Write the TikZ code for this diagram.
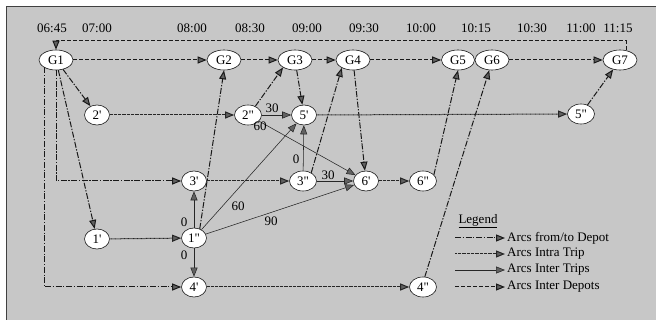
\documentclass[tikz,border=0pt]{standalone}
\usepackage{fontspec}
\setmainfont{Liberation Serif}[Ligatures=TeXOff]
\usetikzlibrary{arrows.meta,shapes.geometric}
\begin{document}
\begin{tikzpicture}[x=1pt,y=-1pt,
  font=\fontsize{13}{15}\selectfont,
  gnode/.style={ellipse,draw=black!90,fill=white,line width=0.6pt,minimum width=34pt,minimum height=20pt,inner sep=0pt},
  tnode/.style={ellipse,draw=black!90,fill=white,line width=0.6pt,minimum width=25pt,minimum height=20pt,inner sep=0pt},
  tip/.style={-{Triangle[length=9pt,width=7pt,fill=black!62]}},
  depot/.style={tip,draw=black!90,line width=1pt,dash pattern=on 6pt off 1.6pt on 1.3pt off 1.6pt},
  intra/.style={tip,draw=black!85,line width=1pt,dash pattern=on 0.8pt off 0.5pt},
  inter/.style={tip,draw=black!85,line width=0.55pt},
  idepot/.style={tip,draw=black!90,line width=1pt,dash pattern=on 4pt off 2pt},
  lbl/.style={inner sep=0pt},
  tlbl/.style={inner sep=0pt},
  legtxt/.style={anchor=west,inner sep=2pt},
]
\useasboundingbox (0,0) rectangle (656,320);
\fill[black!22] (6,6) rectangle (656,320);
\draw[black!75,line width=0.6pt] (6,320) -- (6,6) -- (656,6);

% time labels
\node[tlbl] (t0645) at (52,28) {06:45};
\node[tlbl] (t0700) at (97,28) {07:00};
\node[tlbl] (t0800) at (192,28) {08:00};
\node[tlbl] (t0830) at (250,28) {08:30};
\node[tlbl] (t0900) at (307,28) {09:00};
\node[tlbl] (t0930) at (364,28) {09:30};
\node[tlbl] (t1000) at (421,28) {10:00};
\node[tlbl] (t1015) at (476,28) {10:15};
\node[tlbl] (t1030) at (532,28) {10:30};
\node[tlbl] (t1100) at (581,28) {11:00};
\node[tlbl] (t1115) at (618,28) {11:15};

% depot nodes
\node[gnode] (G1) at (56,60) {G1};
\node[gnode] (G2) at (224,60) {G2};
\node[gnode] (G3) at (295,60) {G3};
\node[gnode] (G4) at (353,60) {G4};
\node[gnode,minimum width=33pt] (G5) at (458,60) {G5};
\node[gnode] (G6) at (492,60) {G6};
\node[gnode] (G7) at (620,60) {G7};

% trip nodes
\node[tnode] (n2p) at (97,115) {2'};
\node[tnode,minimum width=27pt] (n2pp) at (248,115) {2"};
\node[tnode] (n5p) at (304,115) {5'};
\node[tnode,minimum width=27pt] (n5pp) at (581,114) {5"};
\node[tnode] (n3p) at (194,181) {3'};
\node[tnode,minimum width=27pt] (n3pp) at (303,181) {3"};
\node[tnode] (n6p) at (366,181) {6'};
\node[tnode,minimum width=27pt] (n6pp) at (423,181) {6"};
\node[tnode] (n1p) at (97,239) {1'};
\node[tnode] (n1pp) at (194,238) {1"};
\node[tnode] (n4p) at (194,287) {4'};
\node[tnode,minimum width=27pt] (n4pp) at (423,287) {4"};

% inter depots
\coordinate (topl) at (0,41);
\draw[idepot] (G1) -- (G2);
\draw[idepot] (G2) -- (G3);
\draw[idepot] (G3) -- (G4);
\draw[idepot] (G4) -- (G5);
\draw[idepot] (G6) -- (G7);
\draw[idepot] ([xshift=6pt]G7.north) |- (topl -| G1) -- (G1.north);

% from/to depot
\draw[depot] (G1) -- (n2p);
\draw[depot] (G1) -- (n1p);
\draw[depot] (G1.south) |- (n3p.west);
\draw[depot] (G1.212) |- (n4p.west);
\draw[depot] (n1pp.58) -- (G2.south);
\draw[depot] (n2pp.50) -- (G3.212);
\draw[depot] (G3) -- (n5p);
\draw[depot] (n3pp.45) -- (G4.215);
\draw[depot] (G4) -- (n6p);
\draw[depot] (n6pp.30) -- (G5.south);
\draw[depot] (n4pp.80) -- (G6.255);
\draw[depot] (n5pp) -- (G7);

% intra trip
\draw[intra] (n2p) -- (n2pp);
\draw[intra] (n5p) -- (n5pp);
\draw[intra] (n3p) -- (n3pp);
\draw[intra] (n1p) -- (n1pp);
\draw[intra] (n4p) -- (n4pp);
\draw[intra] (n6p) -- (n6pp);

% inter trips
\draw[inter] (n2pp) -- (n5p);
\draw[inter] (n2pp) -- (n6p);
\draw[inter] (n3pp) -- (n5p);
\draw[inter] (n3pp) -- (n6p);
\draw[inter] (n1pp) -- (n3p);
\draw[inter] (n1pp) -- (n4p);
\draw[inter] (n1pp) -- (n5p);
\draw[inter] (n1pp) -- (n6p);

% labels
\node[lbl] (w1) at (272,108) {30};
\node[lbl] (w2) at (260,126) {60};
\node[lbl] (w3) at (296,159) {0};
\node[lbl] (w4) at (328,175) {30};
\node[lbl] (w5) at (238,206) {60};
\node[lbl] (w6) at (271,221) {90};
\node[lbl] (w7) at (184,222) {0};
\node[lbl] (w8) at (184,255) {0};

% legend
\node[inner sep=0pt] (leg) at (478,221) {\underline{Legend}};
\coordinate (a1) at (455,238);
\coordinate (a2) at (455,254);
\coordinate (a3) at (455,270);
\coordinate (a4) at (455,287);
\node[legtxt] (tx1) at (505,238) {Arcs from/to Depot};
\node[legtxt] (tx2) at (505,254) {Arcs Intra Trip};
\node[legtxt] (tx3) at (505,270) {Arcs Inter Trips};
\node[legtxt] (tx4) at (505,287) {Arcs Inter Depots};
\draw[depot] (a1) -- (tx1.west);
\draw[intra] (a2) -- (tx2.west);
\draw[inter] (a3) -- (tx3.west);
\draw[idepot] (a4) -- (tx4.west);
\end{tikzpicture}
\end{document}
